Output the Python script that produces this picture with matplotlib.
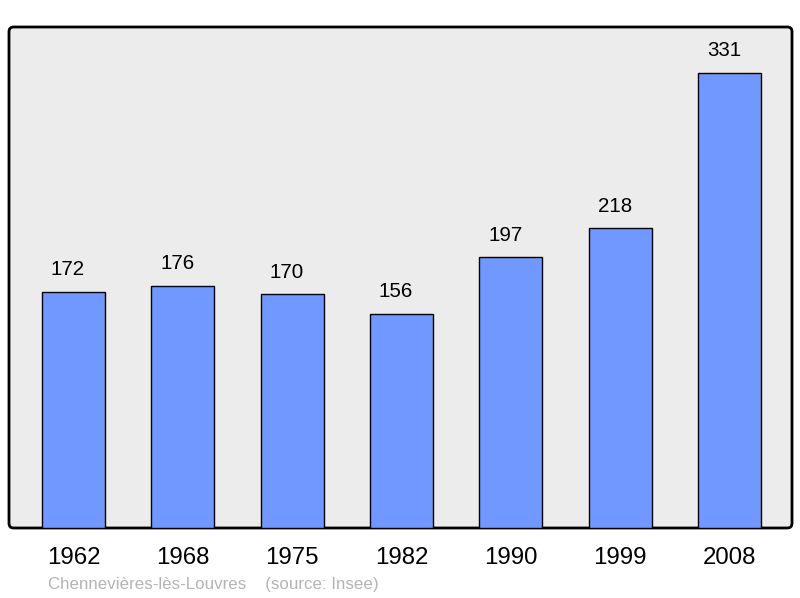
import numpy as np
import matplotlib.pyplot as plt
from matplotlib.patches import FancyBboxPatch

years = ['1962', '1968', '1975', '1982', '1990', '1999', '2008']
population = [172, 176, 170, 156, 197, 218, 331]

plt.rcParams['font.family'] = ['Liberation Sans', 'DejaVu Sans']

fig = plt.figure(figsize=(8, 5.98), dpi=100)
# axes box in pixels: x 9..792, y 27..528
ax = fig.add_axes([9/800, 1 - 528/598, 783/800, 501/598])
ax.set_facecolor('none')

x = np.arange(len(years))
ax.bar(x, population, width=0.575, color='#7098ff', edgecolor='black', linewidth=1.0, zorder=3)

# value labels sit slightly left of the bar centre in the original
for xi, v in zip(x, population):
    ax.annotate(str(v), (xi, v), xytext=(-4, 16), textcoords='offset points',
                ha='center', va='center', fontsize=14.8, color='black')

ax.set_xlim(-0.589, len(years) - 1 + 0.571)
ax.set_ylim(0, 364.5)
ax.set_yticks([])
ax.set_xticks(x)
ax.set_xticklabels(years, fontsize=17.3)
ax.tick_params(axis='x', length=0, pad=14)
for s in ax.spines.values():
    s.set_visible(False)

frame = FancyBboxPatch((0, 0), 1, 1, boxstyle='round,pad=0,rounding_size=0.006',
                       transform=ax.transAxes, facecolor='#ececec', edgecolor='black',
                       linewidth=2, zorder=0, clip_on=False, mutation_aspect=783/501)
ax.add_patch(frame)

fig.text(48/800, 1 - 584/598, 'Chennevières-lès-Louvres    (source: Insee)',
         fontsize=12.2, color='#b4b4b4', ha='left', va='center')

plt.savefig('out.png', dpi=100)
